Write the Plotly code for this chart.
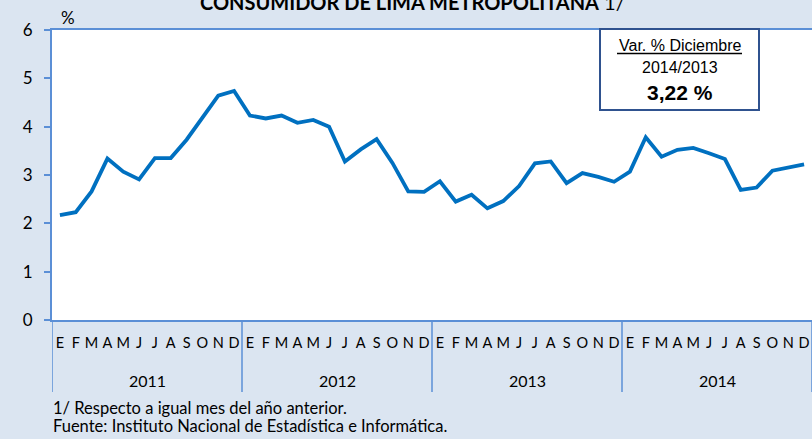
import plotly.graph_objects as go

months = ["E", "F", "M", "A", "M", "J", "J", "A", "S", "O", "N", "D"]
years = ["2011", "2012", "2013", "2014"]
values = [
    2.17, 2.23, 2.66, 3.34, 3.07, 2.91, 3.35, 3.35, 3.73, 4.20, 4.64, 4.74,
    4.23, 4.17, 4.23, 4.08, 4.14, 4.00, 3.28, 3.53, 3.74, 3.25, 2.66, 2.65,
    2.87, 2.45, 2.59, 2.31, 2.46, 2.77, 3.24, 3.28, 2.83, 3.04, 2.96, 2.86,
    3.07, 3.78, 3.38, 3.52, 3.56, 3.45, 3.33, 2.69, 2.74, 3.09, 3.16, 3.22,
]
yticks = [0, 1, 2, 3, 4, 5, 6]

n = len(values)
xpos = [i + 0.5 for i in range(n)]
tick_text = months * len(years)

BG = "#DBE5F1"
AX = "#5B8FD6"
LINE = "#0070C0"
CAL = "Lato"

fig = go.Figure()
fig.add_trace(go.Scatter(x=xpos, y=values, mode="lines",
                         line=dict(color=LINE, width=3.8), hoverinfo="skip"))

# plot pixel geometry helpers
L, R, T, B = 52, 812, 30, 320
W, H = R - L, B - T
def px(x):
    return (x - L) / W
def py(y):
    return (B - y) / H

def txt(x, y, text, size, family=CAL, xanchor="center", xref="paper"):
    return dict(x=x, y=py(y), xref=xref, yref="paper", text=text, showarrow=False,
                xanchor=xanchor, yanchor="middle", borderpad=0,
                font=dict(family=family, size=size, color="black"))

shapes = []
# year separators
for k in range(len(years) + 1):
    shapes.append(dict(type="line", xref="x", yref="paper", x0=12 * k, x1=12 * k,
                       y0=0, y1=py(392), line=dict(color=AX, width=1.5)))
# info box
shapes.append(dict(type="rect", xref="paper", yref="paper", x0=px(600), x1=px(759),
                   y0=py(110), y1=py(29), line=dict(color="#2F528F", width=2),
                   fillcolor="white"))
shapes.append(dict(type="line", xref="paper", yref="paper", x0=px(617), x1=px(742),
                   y0=py(53.5), y1=py(53.5), line=dict(color="black", width=1.5)))

ann = []
for k, yr in enumerate(years):
    ann.append(txt(12 * k + 6, 380, yr, 16, xref="x"))
ann += [
    txt(px(412), 2, "<b>CONSUMIDOR DE LIMA METROPOLITANA</b> 1/", 20),
    txt(px(68), 17, "%", 17),
    txt(px(680), 45.5, "Var. % Diciembre", 16, family="Liberation Sans"),
    txt(px(680), 67.5, "2014/2013", 16, family="Liberation Sans"),
    txt(px(680), 92.5, "<b>3,22 %</b>", 21, family="Liberation Sans"),
    txt(px(52), 408, "1/ Respecto a igual mes del año anterior.", 16.5, xanchor="left"),
    txt(px(52), 425.5, "Fuente: Instituto Nacional de Estadística e Informática.", 16.5,
        xanchor="left"),
]

fig.update_layout(
    width=812, height=439,
    margin=dict(l=L, r=812 - R, t=T, b=439 - B, pad=0, autoexpand=False),
    paper_bgcolor=BG, plot_bgcolor="white",
    showlegend=False,
    shapes=shapes, annotations=ann,
    xaxis=dict(range=[0, n], tickvals=xpos, ticktext=tick_text, showgrid=False,
               zeroline=False, showline=True, linecolor=AX, linewidth=2, mirror=True,
               ticks="", tickfont=dict(family=CAL, size=14.5, color="black"),
               ticklabelstandoff=9, fixedrange=True, automargin=False),
    yaxis=dict(range=[0, 6], tickvals=yticks, showgrid=False, zeroline=False,
               showline=True, linecolor=AX, linewidth=2, ticks="outside", ticklen=6,
               tickcolor=AX, tickwidth=1.5, tickfont=dict(family=CAL, size=17, color="black"),
               ticklabelstandoff=8, fixedrange=True, automargin=False),
)

fig.write_html("out.html", config={"displayModeBar": False},
               post_script="document.body.style.margin='0';")
